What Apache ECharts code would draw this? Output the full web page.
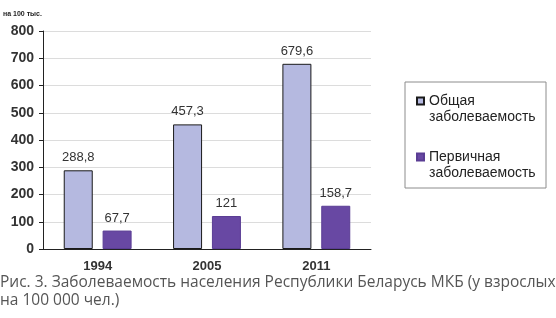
<!DOCTYPE html>
<html>
<head>
<meta charset="utf-8">
<script src="https://cdn.jsdelivr.net/npm/echarts@6/dist/echarts.min.js"></script>
<style>
    html, body { margin: 0; padding: 0; background: #fff; }
    #chart { width: 556px; height: 318px; }
</style>
</head>
<body>
<div id="chart"></div>
<script>
// данные с рисунка
const years = ['1994', '2005', '2011']
const obshaya = [288.8, 457.3, 679.6]
const pervichnaya = [67.7, 121, 158.7]
const seriesNames = ['Общая\nзаболеваемость', 'Первичная\nзаболеваемость']
const yTicks = [0, 100, 200, 300, 400, 500, 600, 700, 800]

const chart = echarts.init(document.getElementById('chart'))

const labelFmt = p => String(p.value).replace('.', ',')

const option = {
    animation: false,
    title: {
        text: 'на 100 тыс.',
        left: 3,
        top: 11,
        padding: 0,
        textStyle: { fontSize: 7, fontWeight: 'bold', color: '#222', fontFamily: 'Liberation Sans' }
    },
    grid: { left: 43, right: 185, top: 31, bottom: 69 },
    legend: {
        orient: 'vertical',
        left: 416,
        top: 77,
        padding: 0,
        itemGap: 8,
        itemWidth: 7,
        itemHeight: 7,
        icon: 'rect',
        data: seriesNames,
        // пустая первая строка, чтобы значок стоял напротив первой строки
        formatter: name => '\n' + name,
        textStyle: { fontSize: 14, lineHeight: 16, color: '#222', fontFamily: 'Liberation Sans' }
    },
    graphic: [
        {
            type: 'rect',
            shape: { x: 405, y: 82, width: 141, height: 106 },
            style: { fill: 'none', stroke: '#8c8c8c', lineWidth: 1 },
            z: -1
        },
        {
            type: 'text',
            left: 0,
            top: 274,
            style: {
                text: 'Рис. 3. Заболеваемость населения Республики Беларусь МКБ (у взрослых\nна 100 000 чел.)',
                fontSize: 15.5,
                lineHeight: 18,
                fill: '#555',
                fontFamily: 'Open Sans'
            }
        }
    ],
    xAxis: {
        type: 'category',
        data: years,
        axisLine: { lineStyle: { color: '#222' } },
        axisTick: { length: 4, lineStyle: { color: '#222' } },
        axisLabel: { fontSize: 13, fontWeight: 'bold', color: '#333', margin: 11, fontFamily: 'Liberation Sans' }
    },
    yAxis: {
        type: 'value',
        min: 0,
        max: 800,
        interval: 100,
        axisLine: { show: true, lineStyle: { color: '#222' } },
        axisTick: { show: true, length: 4, lineStyle: { color: '#222' } },
        axisLabel: {
            fontSize: 14, fontWeight: 'bold', color: '#333', margin: 9, fontFamily: 'Liberation Sans',
            formatter: v => yTicks.includes(v) ? String(v) : ''
        },
        splitLine: { lineStyle: { color: '#dcdcdc' } }
    },
    series: [
        {
            name: seriesNames[0],
            type: 'bar',
            data: obshaya,
            barWidth: 29,
            barGap: '34%',
            itemStyle: { color: '#b5b9e0', borderColor: '#1a1a1a', borderWidth: 1 },
            label: { show: true, position: 'top', distance: 6, fontSize: 13, color: '#333', fontFamily: 'Liberation Sans', formatter: labelFmt }
        },
        {
            name: seriesNames[1],
            type: 'bar',
            data: pervichnaya,
            barWidth: 29,
            itemStyle: { color: '#6848a3', borderColor: '#5a3d94', borderWidth: 1 },
            label: { show: true, position: 'top', distance: 6, fontSize: 13, color: '#333', fontFamily: 'Liberation Sans', formatter: labelFmt }
        }
    ]
}

chart.setOption(option)
</script>
</body>
</html>
